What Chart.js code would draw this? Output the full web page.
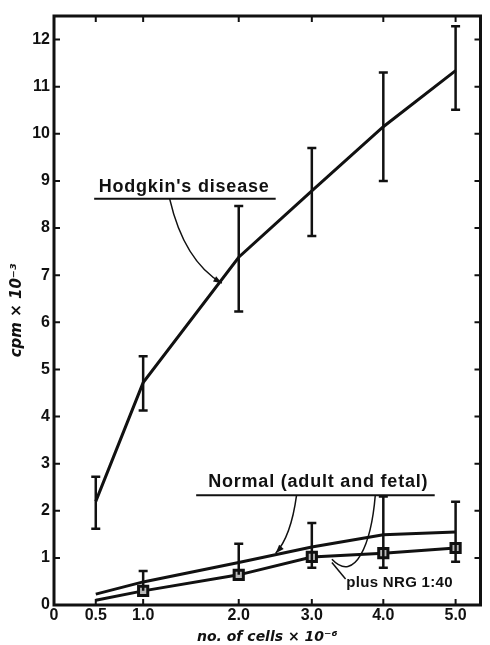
<!DOCTYPE html>
<html>
<head>
<meta charset="utf-8">
<script src="https://cdn.jsdelivr.net/npm/chart.js@4.4.1/dist/chart.umd.min.js"></script>
<style>
  html, body { margin: 0; padding: 0; background: #fff; }
</style>
</head>
<body>
<canvas id="myChart" width="490" height="645"></canvas>
<script>
// x axis of the original figure is not linear: tick values and where they sit
const xTickValues = [0, 0.5, 1, 2, 3, 4, 5];
const xTickLabels = ['0', '0.5', '1.0', '2.0', '3.0', '4.0', '5.0'];
const xTickPos = [0, 0.52, 1.11, 2.30, 3.21, 4.10, 5.0];
const yTicks = [0, 1, 2, 3, 4, 5, 6, 7, 8, 9, 10, 11, 12];

const cells = [0.5, 1, 2, 3, 4, 5];
const hodgkin = [2.2, 4.72, 7.38, 8.79, 10.15, 11.34];
const hodgkinLow = [1.62, 4.13, 6.23, 7.83, 9.0, 10.51];
const hodgkinHigh = [2.72, 5.28, 8.47, 9.70, 11.30, 12.28];
const normal = [0.23, 0.49, 0.9, 1.23, 1.49, 1.55];
const normalHigh = [null, 0.72, 1.30, 1.74, 2.30, 2.19];
const nrg = [0.1, 0.3, 0.64, 1.02, 1.10, 1.21];
const nrgLow = [null, null, null, 0.79, 0.79, 0.92];

const FONT = '"Liberation Sans", Arial, sans-serif';
const TITLE_FONT = '"DejaVu Sans", sans-serif';
const INK = '#111';

function axisPos(v) {
    for (let i = 1; i < xTickValues.length; i++) {
        if (v <= xTickValues[i]) {
            const a = xTickValues[i - 1], b = xTickValues[i];
            return xTickPos[i - 1] + (v - a) / (b - a) * (xTickPos[i] - xTickPos[i - 1]);
        }
    }
    return xTickPos[xTickPos.length - 1];
}

function pts(values) {
    return cells.map((c, i) => ({ x: axisPos(c), y: values[i] }));
}

const frame = {
    id: 'frame',
    afterDraw(chart) {
        const { ctx, chartArea: a, scales } = chart;
        ctx.save();
        ctx.strokeStyle = INK;
        ctx.lineWidth = 3;
        ctx.strokeRect(a.left, a.top, a.right - a.left, a.bottom - a.top);
        ctx.lineWidth = 2;
        ctx.beginPath();
        yTicks.forEach(v => {
            const py = scales.y.getPixelForValue(v);
            if (v === 0) return;
            ctx.moveTo(a.left, py); ctx.lineTo(a.left + 6, py);
            ctx.moveTo(a.right, py); ctx.lineTo(a.right - 6, py);
        });
        xTickPos.forEach((v, i) => {
            if (i === 0) return;
            const px = scales.x.getPixelForValue(v);
            ctx.moveTo(px, a.bottom); ctx.lineTo(px, a.bottom - 6);
            ctx.moveTo(px, a.top); ctx.lineTo(px, a.top + 6);
        });
        ctx.stroke();
        ctx.restore();
    }
};

function bar(ctx, px, lo, hi, capLo, capHi) {
    ctx.beginPath();
    ctx.moveTo(px, lo); ctx.lineTo(px, hi);
    if (capLo) { ctx.moveTo(px - 4.5, lo); ctx.lineTo(px + 4.5, lo); }
    if (capHi) { ctx.moveTo(px - 4.5, hi); ctx.lineTo(px + 4.5, hi); }
    ctx.stroke();
}

const errorBars = {
    id: 'errorBars',
    afterDatasetsDraw(chart) {
        const { ctx, scales } = chart;
        ctx.save();
        ctx.strokeStyle = INK;
        ctx.lineWidth = 2.5;
        cells.forEach((c, i) => {
            const px = scales.x.getPixelForValue(axisPos(c));
            bar(ctx, px, scales.y.getPixelForValue(hodgkinLow[i]), scales.y.getPixelForValue(hodgkinHigh[i]), true, true);
            if (normalHigh[i] !== null) {
                const lo = nrgLow[i] !== null ? nrgLow[i] : nrg[i];
                bar(ctx, px, scales.y.getPixelForValue(lo), scales.y.getPixelForValue(normalHigh[i]), nrgLow[i] !== null, true);
            }
        });
        ctx.restore();
    }
};

function arrowHead(ctx, x0, y0, x1, y1) {
    const ang = Math.atan2(y1 - y0, x1 - x0);
    ctx.beginPath();
    ctx.moveTo(x1, y1);
    ctx.lineTo(x1 - 9 * Math.cos(ang - 0.35), y1 - 9 * Math.sin(ang - 0.35));
    ctx.lineTo(x1 - 9 * Math.cos(ang + 0.35), y1 - 9 * Math.sin(ang + 0.35));
    ctx.closePath();
    ctx.fill();
}

const labels = {
    id: 'labels',
    afterDraw(chart) {
        const { ctx, scales } = chart;
        const P = (u, v) => [scales.x.getPixelForValue(u), scales.y.getPixelForValue(v)];
        ctx.save();
        ctx.fillStyle = INK;
        ctx.strokeStyle = INK;
        ctx.textBaseline = 'middle';

        // Hodgkin's disease
        ctx.font = 'bold 18px ' + FONT;
        ctx.letterSpacing = '0.8px';
        ctx.textAlign = 'center';
        let p = P(1.62, 8.87);
        ctx.fillText("Hodgkin's disease", p[0], p[1]);
        ctx.lineWidth = 2;
        let s = P(0.50, 8.62), e = P(2.76, 8.62);
        ctx.beginPath(); ctx.moveTo(s[0], s[1]); ctx.lineTo(e[0], e[1]); ctx.stroke();
        s = P(1.44, 8.62); let c = P(1.62, 7.3); e = P(2.09, 6.83);
        ctx.lineWidth = 1.5;
        ctx.beginPath(); ctx.moveTo(s[0], s[1]); ctx.quadraticCurveTo(c[0], c[1], e[0], e[1]); ctx.stroke();
        arrowHead(ctx, c[0], c[1], e[0], e[1]);

        // Normal (adult and fetal)
        p = P(3.29, 2.61);
        ctx.fillText('Normal (adult and fetal)', p[0], p[1]);
        ctx.lineWidth = 2;
        s = P(1.77, 2.33); e = P(4.74, 2.33);
        ctx.beginPath(); ctx.moveTo(s[0], s[1]); ctx.lineTo(e[0], e[1]); ctx.stroke();
        ctx.lineWidth = 1.5;
        s = P(3.02, 2.33); c = P(2.95, 1.45); e = P(2.76, 1.10);
        ctx.beginPath(); ctx.moveTo(s[0], s[1]); ctx.quadraticCurveTo(c[0], c[1], e[0], e[1]); ctx.stroke();
        arrowHead(ctx, c[0], c[1], e[0], e[1]);
        s = P(4.0, 2.33);
        const c1 = P(3.95, 1.3), c2 = P(3.75, 0.45);
        e = P(3.46, 0.97);
        ctx.beginPath(); ctx.moveTo(s[0], s[1]); ctx.bezierCurveTo(c1[0], c1[1], c2[0], c2[1], e[0], e[1]); ctx.stroke();

        // plus NRG 1:40
        ctx.font = 'bold 15px ' + FONT;
        ctx.letterSpacing = '0.3px';
        ctx.textAlign = 'left';
        p = P(3.64, 0.47);
        ctx.fillText('plus NRG 1:40', p[0], p[1]);
        s = P(3.63, 0.55); e = P(3.46, 0.9);
        ctx.beginPath(); ctx.moveTo(s[0], s[1]); ctx.lineTo(e[0], e[1]); ctx.stroke();
        ctx.restore();
    }
};

function loadChart() {
    const ctx = document.getElementById('myChart');
    new Chart(ctx, {
        type: 'line',
        data: {
            datasets: [{
                label: "Hodgkin's disease",
                data: pts(hodgkin),
                borderColor: INK,
                borderWidth: 3,
                pointRadius: 0,
                tension: 0,
            }, {
                label: 'Normal (adult and fetal)',
                data: pts(normal),
                borderColor: INK,
                borderWidth: 3,
                pointRadius: 0,
                tension: 0,
            }, {
                label: 'plus NRG 1:40',
                data: pts(nrg),
                borderColor: INK,
                borderWidth: 3,
                pointStyle: 'rect',
                pointRadius: [0, 6.5, 6.5, 6.5, 6.5, 6.5],
                pointBorderWidth: 3,
                pointBorderColor: INK,
                pointBackgroundColor: '#bbb',
                tension: 0,
            }]
        },
        options: {
            responsive: false,
            animation: false,
            devicePixelRatio: 1,
            layout: { padding: { left: 0, right: 7, top: 16, bottom: 0 } },
            scales: {
                x: {
                    type: 'linear',
                    min: 0,
                    max: 5.31,
                    afterFit(scale) { scale.height = 40; },
                    afterBuildTicks(scale) { scale.ticks = xTickPos.map(v => ({ value: v })); },
                    ticks: {
                        callback: (v, i) => xTickLabels[i],
                        font: { family: FONT, size: 16, weight: 'bold' },
                        color: INK,
                        padding: 1,
                        autoSkip: false,
                        maxRotation: 0,
                    },
                    grid: { display: false, drawTicks: false },
                    border: { display: false },
                    title: {
                        display: true,
                        text: 'no. of cells × 10⁻⁶',
                        font: { family: TITLE_FONT, size: 14, style: 'italic', weight: 'bold' },
                        color: INK,
                        padding: { top: 0, bottom: -1 },
                    }
                },
                y: {
                    min: 0,
                    max: 12.5,
                    afterFit(scale) { scale.width = 54; },
                    afterBuildTicks(scale) { scale.ticks = yTicks.map(v => ({ value: v })); },
                    ticks: {
                        font: { family: FONT, size: 16, weight: 'bold' },
                        color: INK,
                        padding: 4,
                    },
                    grid: { display: false, drawTicks: false },
                    border: { display: false },
                    title: {
                        display: true,
                        text: 'cpm × 10⁻³',
                        font: { family: TITLE_FONT, size: 15, style: 'italic', weight: 'bold' },
                        color: INK,
                        padding: { top: 8, bottom: 0 },
                    }
                }
            },
            plugins: {
                legend: { display: false },
                tooltip: { enabled: false },
            }
        },
        plugins: [frame, errorBars, labels]
    });
}

loadChart();
</script>
</body>
</html>
